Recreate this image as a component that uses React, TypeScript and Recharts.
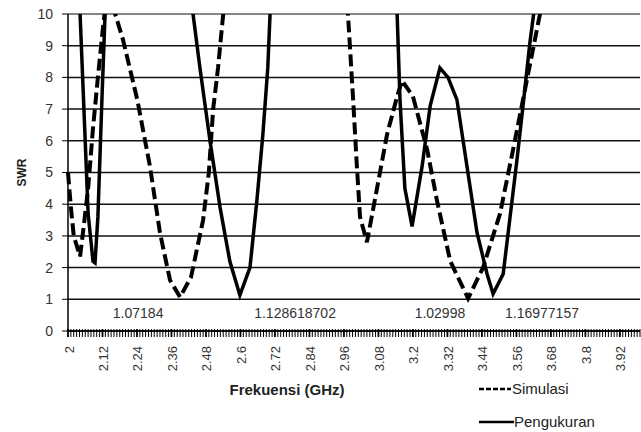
import { LineChart, Line, XAxis, YAxis, CartesianGrid, ReferenceLine, ReferenceDot, Label } from 'recharts';

// Simulasi (dashed) - frequency in GHz and SWR
const simFreq = [2.0, 2.01, 2.02, 2.042, 2.052, 2.07, 2.087, 2.104, 2.122, 2.127, 2.145, 2.164, 2.191, 2.241, 2.285, 2.32, 2.355, 2.39, 2.428, 2.47, 2.49, 2.505, 2.522, 2.54, 2.75, 2.974, 2.992, 3.005, 3.016, 3.04, 3.075, 3.11, 3.145, 3.162, 3.2, 3.25, 3.284, 3.33, 3.392, 3.444, 3.503, 3.548, 3.583, 3.618, 3.642, 3.8, 3.99];
const simSwr = [5.0, 3.9, 3.0, 2.35, 3.1, 4.5, 6.4, 8.0, 9.6, 10, 13, 10, 9.2, 7.3, 5.2, 3.1, 1.6, 1.07, 1.7, 3.5, 5.0, 7.0, 8.3, 10, 30, 10, 7.3, 5.2, 3.6, 2.8, 4.5, 6.2, 7.4, 7.9, 7.4, 5.7, 4.1, 2.2, 1.03, 2.0, 3.7, 5.7, 7.3, 8.9, 10, 25, 40];

// Pengukuran (solid)
const measFreq = [2.0, 2.042, 2.059, 2.07, 2.087, 2.094, 2.104, 2.118, 2.129, 2.28, 2.435, 2.459, 2.494, 2.529, 2.563, 2.598, 2.633, 2.657, 2.678, 2.695, 2.703, 2.92, 3.145, 3.155, 3.172, 3.197, 3.232, 3.26, 3.294, 3.322, 3.353, 3.388, 3.423, 3.458, 3.479, 3.514, 3.538, 3.562, 3.583, 3.607, 3.62, 3.8, 3.99];
const measSwr = [40, 10, 6.2, 3.7, 2.2, 2.15, 3.6, 7.3, 10, 30, 10, 8.3, 6.0, 3.9, 2.2, 1.13, 2.0, 4.1, 6.2, 8.3, 10, 40, 10, 7.3, 4.5, 3.3, 5.2, 7.1, 8.3, 8.0, 7.3, 5.2, 3.1, 1.8, 1.17, 1.8, 3.6, 5.4, 7.1, 9.1, 10, 30, 40];

const xTickLabels = ['2', '2.12', '2.24', '2.36', '2.48', '2.6', '2.72', '2.84', '2.96', '3.08', '3.2', '3.32', '3.44', '3.56', '3.68', '3.8', '3.92'];
const yTicks = [0, 1, 2, 3, 4, 5, 6, 7, 8, 9, 10];

const minimaText = ['1.07184', '1.128618702', '1.02998', '1.16977157'];
const minimaFreq = [2.244, 2.79, 3.294, 3.649];

const simData = simFreq.map((f, i) => ({ f, swr: simSwr[i] }));
const measData = measFreq.map((f, i) => ({ f, swr: measSwr[i] }));

// one minor tick per category step (0.01 GHz)
const freqTicks: number[] = [];
for (let k = 0; k < 200; k++) freqTicks.push(Math.round((2 + k * 0.01) * 100) / 100);

const FONT = '"Liberation Sans", Arial, sans-serif';

function FreqTick(props: any) {
    const { x, y, payload } = props;
    const k = Math.round((payload.value - 2) * 100);
    const major = k % 12 === 0;
    const label = major ? xTickLabels[k / 12] : null;
    return (
        <g>
            <line x1={x} x2={x} y1={y - 4} y2={y + 4} stroke="#000" strokeWidth={major ? 1.8 : 1} />
            {label && (
                <text
                    transform={`translate(${x + 1},${y + 13}) rotate(-90)`}
                    textAnchor="end"
                    dominantBaseline="central"
                    fontSize={13}
                    fontFamily={FONT}
                    fill="#333"
                >
                    {label}
                </text>
            )}
        </g>
    );
}

function App() {
    return (
        <div style={{ position: 'absolute', left: 0, top: 0, width: 641, height: 432, background: '#fff' }}>
            <LineChart width={641} height={432} margin={{ top: 14, right: 1, bottom: 0, left: 0 }}>
                <CartesianGrid vertical={false} stroke="#111" strokeWidth={1.5} />
                <XAxis
                    type="number"
                    dataKey="f"
                    domain={[2, 3.99]}
                    ticks={freqTicks}
                    interval={0}
                    height={101}
                    tickLine={false}
                    tickSize={0}
                    tick={<FreqTick />}
                    axisLine={{ stroke: '#000', strokeWidth: 1.5 }}
                >
                    <Label
                        content={(p: any) => (
                            <text
                                x={p.viewBox.x + 219}
                                y={p.viewBox.y + 64}
                                textAnchor="middle"
                                fontSize={15}
                                fontWeight="bold"
                                fontFamily={FONT}
                                fill="#222"
                            >
                                Frekuensi (GHz)
                            </text>
                        )}
                    />
                </XAxis>
                <YAxis
                    type="number"
                    domain={[0, 10]}
                    ticks={yTicks}
                    allowDataOverflow
                    width={68}
                    tickSize={6}
                    tickMargin={9}
                    tick={{ fontSize: 14, fill: '#333', fontFamily: FONT }}
                    tickLine={{ stroke: '#000' }}
                    axisLine={{ stroke: '#000', strokeWidth: 1.5 }}
                >
                    <Label
                        content={(p: any) => (
                            <text
                                transform={`translate(22,${p.viewBox.y + p.viewBox.height / 2}) rotate(-90)`}
                                textAnchor="middle"
                                dominantBaseline="central"
                                fontSize={12}
                                fontWeight="bold"
                                fontFamily={FONT}
                                fill="#222"
                            >
                                SWR
                            </text>
                        )}
                    />
                </YAxis>
                <ReferenceLine y={10} stroke="#9a9a9a" strokeWidth={1.5} />
                <Line
                    data={simData}
                    dataKey="swr"
                    type="linear"
                    stroke="#000"
                    strokeWidth={4}
                    strokeDasharray="12 5"
                    dot={false}
                    isAnimationActive={false}
                />
                <Line
                    data={measData}
                    dataKey="swr"
                    type="linear"
                    stroke="#000"
                    strokeWidth={3.5}
                    dot={false}
                    isAnimationActive={false}
                />
                {minimaText.map((t, i) => (
                    <ReferenceDot
                        key={t}
                        x={minimaFreq[i]}
                        y={0.57}
                        r={0}
                        stroke="none"
                        label={{ value: t, position: 'center', fontSize: 14, fill: '#333', fontFamily: FONT }}
                    />
                ))}
            </LineChart>
            <div style={{ position: 'absolute', left: 478, top: 379, fontFamily: FONT, fontSize: 15, color: '#222', lineHeight: '20px' }}>
                <div style={{ display: 'flex', alignItems: 'center' }}>
                    <svg width={34} height={10}>
                        <line x1={1} x2={33} y1={5} y2={5} stroke="#000" strokeWidth={2.5} strokeDasharray="5 2" />
                    </svg>
                    <span>Simulasi</span>
                </div>
                <div style={{ display: 'flex', alignItems: 'center', marginTop: 13 }}>
                    <svg width={36} height={10}>
                        <line x1={1} x2={36} y1={5} y2={5} stroke="#000" strokeWidth={2.5} />
                    </svg>
                    <span>Pengukuran</span>
                </div>
            </div>
        </div>
    );
}

export default App;
